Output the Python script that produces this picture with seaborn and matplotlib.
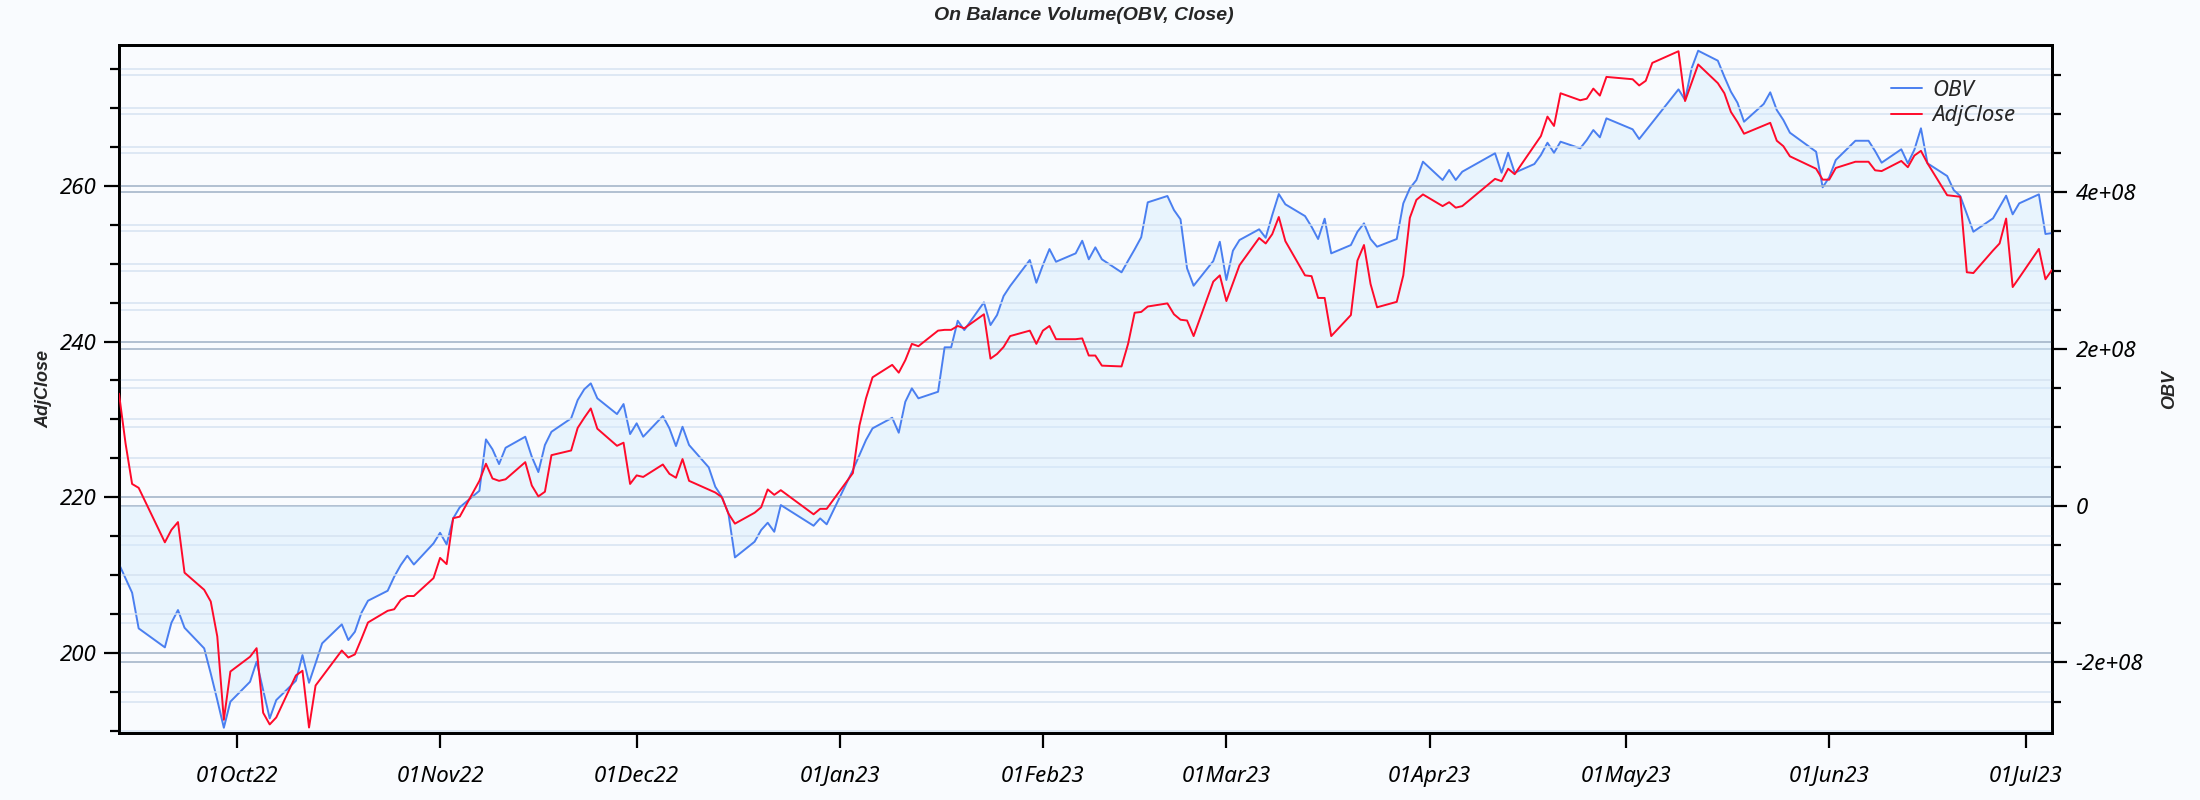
import matplotlib
matplotlib.use("Agg")
import matplotlib.pyplot as plt
import matplotlib.dates as mdates
import matplotlib.ticker as mticker
import seaborn as sns
import pandas as pd

# ---------------- data ----------------
close_dates = [
    "2022-09-13", "2022-09-14", "2022-09-15", "2022-09-16", "2022-09-20", "2022-09-21", "2022-09-22",
    "2022-09-23", "2022-09-26", "2022-09-27", "2022-09-28", "2022-09-29", "2022-09-30", "2022-10-03",
    "2022-10-04", "2022-10-05", "2022-10-06", "2022-10-07", "2022-10-10", "2022-10-11", "2022-10-12",
    "2022-10-13", "2022-10-17", "2022-10-18", "2022-10-19", "2022-10-20", "2022-10-21", "2022-10-24",
    "2022-10-25", "2022-10-26", "2022-10-27", "2022-10-28", "2022-10-31", "2022-11-01", "2022-11-02",
    "2022-11-03", "2022-11-04", "2022-11-07", "2022-11-08", "2022-11-09", "2022-11-10", "2022-11-11",
    "2022-11-14", "2022-11-15", "2022-11-16", "2022-11-17", "2022-11-18", "2022-11-21", "2022-11-22",
    "2022-11-23", "2022-11-24", "2022-11-25", "2022-11-28", "2022-11-29", "2022-11-30", "2022-12-01",
    "2022-12-02", "2022-12-05", "2022-12-06", "2022-12-07", "2022-12-08", "2022-12-09", "2022-12-13",
    "2022-12-14", "2022-12-15", "2022-12-16", "2022-12-19", "2022-12-20", "2022-12-21", "2022-12-22",
    "2022-12-23", "2022-12-28", "2022-12-29", "2022-12-30", "2023-01-03", "2023-01-04", "2023-01-05",
    "2023-01-06", "2023-01-09", "2023-01-10", "2023-01-11", "2023-01-12", "2023-01-13", "2023-01-16",
    "2023-01-17", "2023-01-18", "2023-01-19", "2023-01-20", "2023-01-23", "2023-01-24", "2023-01-25",
    "2023-01-26", "2023-01-27", "2023-01-30", "2023-01-31", "2023-02-01", "2023-02-02", "2023-02-03",
    "2023-02-06", "2023-02-07", "2023-02-08", "2023-02-09", "2023-02-10", "2023-02-13", "2023-02-14",
    "2023-02-15", "2023-02-16", "2023-02-17", "2023-02-20", "2023-02-21", "2023-02-22", "2023-02-23",
    "2023-02-24", "2023-02-27", "2023-02-28", "2023-03-01", "2023-03-03", "2023-03-06", "2023-03-07",
    "2023-03-08", "2023-03-09", "2023-03-10", "2023-03-13", "2023-03-14", "2023-03-15", "2023-03-16",
    "2023-03-17", "2023-03-20", "2023-03-21", "2023-03-22", "2023-03-23", "2023-03-24", "2023-03-27",
    "2023-03-28", "2023-03-29", "2023-03-30", "2023-03-31", "2023-04-03", "2023-04-04", "2023-04-05",
    "2023-04-06", "2023-04-11", "2023-04-12", "2023-04-13", "2023-04-14", "2023-04-18", "2023-04-19",
    "2023-04-20", "2023-04-21", "2023-04-24", "2023-04-25", "2023-04-26", "2023-04-27", "2023-04-28",
    "2023-05-02", "2023-05-03", "2023-05-04", "2023-05-05", "2023-05-09", "2023-05-10", "2023-05-12",
    "2023-05-15", "2023-05-16", "2023-05-17", "2023-05-18", "2023-05-19", "2023-05-23", "2023-05-24",
    "2023-05-25", "2023-05-26", "2023-05-30", "2023-05-31", "2023-06-01", "2023-06-02", "2023-06-05",
    "2023-06-07", "2023-06-08", "2023-06-09", "2023-06-12", "2023-06-13", "2023-06-14", "2023-06-15",
    "2023-06-16", "2023-06-19", "2023-06-21", "2023-06-22", "2023-06-23", "2023-06-26", "2023-06-27",
    "2023-06-28", "2023-06-29", "2023-06-30", "2023-07-03", "2023-07-04", "2023-07-05",
]
close_values = [
    233.3, 226.9, 221.7, 221.2, 214.2, 215.8, 216.8,
    210.3, 208.1, 206.6, 202.1, 191.4, 197.6, 199.5,
    200.6, 192.3, 190.8, 191.7, 197.1, 197.7, 190.4,
    195.8, 200.3, 199.4, 199.8, 201.8, 203.9, 205.4,
    205.6, 206.8, 207.3, 207.3, 209.6, 212.2, 211.4,
    217.3, 217.5, 222.1, 224.3, 222.4, 222.1, 222.3,
    224.5, 221.5, 220.1, 220.7, 225.4, 226.0, 228.9,
    230.2, 231.4, 228.8, 226.6, 227.0, 221.7, 222.8,
    222.6, 224.2, 223.0, 222.5, 224.9, 222.1, 220.6,
    220.0, 217.9, 216.6, 218.0, 218.7, 221.0, 220.3,
    220.9, 217.8, 218.5, 218.5, 223.1, 229.2, 232.7,
    235.4, 237.0, 236.0, 237.6, 239.7, 239.4, 241.4,
    241.5, 241.5, 242.0, 241.7, 243.5, 237.8, 238.4,
    239.3, 240.7, 241.4, 239.7, 241.4, 242.0, 240.3,
    240.3, 240.4, 238.2, 238.2, 236.9, 236.8, 239.7,
    243.7, 243.8, 244.5, 244.9, 243.5, 242.8, 242.7,
    240.7, 247.7, 248.5, 245.2, 249.8, 253.3, 252.6,
    253.8, 256.0, 252.9, 248.5, 248.4, 245.6, 245.6,
    240.7, 243.4, 250.4, 252.4, 247.4, 244.4, 245.1,
    248.5, 255.9, 258.2, 258.9, 257.4, 257.9, 257.2,
    257.4, 260.9, 260.6, 262.2, 261.5, 266.4, 268.9,
    267.7, 271.9, 271.0, 271.2, 272.5, 271.6, 274.0,
    273.7, 272.9, 273.5, 275.8, 277.3, 270.9, 275.6,
    273.2, 271.9, 269.5, 268.2, 266.7, 268.1, 265.8,
    265.1, 263.8, 262.2, 260.8, 260.8, 262.3, 263.1,
    263.1, 262.0, 261.9, 263.2, 262.4, 263.9, 264.5,
    262.9, 258.8, 258.6, 248.9, 248.8, 251.7, 252.6,
    255.8, 247.0, 248.2, 251.9, 248.0, 249.2,
]

obv_dates = [
    "2022-09-13", "2022-09-15", "2022-09-16", "2022-09-20", "2022-09-21", "2022-09-22", "2022-09-23",
    "2022-09-26", "2022-09-27", "2022-09-28", "2022-09-29", "2022-09-30", "2022-10-03", "2022-10-04",
    "2022-10-05", "2022-10-06", "2022-10-07", "2022-10-10", "2022-10-11", "2022-10-12", "2022-10-13",
    "2022-10-14", "2022-10-17", "2022-10-18", "2022-10-19", "2022-10-20", "2022-10-21", "2022-10-24",
    "2022-10-25", "2022-10-26", "2022-10-27", "2022-10-28", "2022-10-31", "2022-11-01", "2022-11-02",
    "2022-11-03", "2022-11-04", "2022-11-07", "2022-11-08", "2022-11-09", "2022-11-10", "2022-11-11",
    "2022-11-14", "2022-11-15", "2022-11-16", "2022-11-17", "2022-11-18", "2022-11-21", "2022-11-22",
    "2022-11-23", "2022-11-24", "2022-11-25", "2022-11-28", "2022-11-29", "2022-11-30", "2022-12-01",
    "2022-12-02", "2022-12-05", "2022-12-06", "2022-12-07", "2022-12-08", "2022-12-09", "2022-12-12",
    "2022-12-13", "2022-12-14", "2022-12-15", "2022-12-16", "2022-12-19", "2022-12-20", "2022-12-21",
    "2022-12-22", "2022-12-23", "2022-12-28", "2022-12-29", "2022-12-30", "2023-01-03", "2023-01-04",
    "2023-01-05", "2023-01-06", "2023-01-09", "2023-01-10", "2023-01-11", "2023-01-12", "2023-01-13",
    "2023-01-16", "2023-01-17", "2023-01-18", "2023-01-19", "2023-01-20", "2023-01-23", "2023-01-24",
    "2023-01-25", "2023-01-26", "2023-01-27", "2023-01-30", "2023-01-31", "2023-02-01", "2023-02-02",
    "2023-02-03", "2023-02-06", "2023-02-07", "2023-02-08", "2023-02-09", "2023-02-10", "2023-02-13",
    "2023-02-14", "2023-02-15", "2023-02-16", "2023-02-17", "2023-02-20", "2023-02-21", "2023-02-22",
    "2023-02-23", "2023-02-24", "2023-02-27", "2023-02-28", "2023-03-01", "2023-03-02", "2023-03-03",
    "2023-03-06", "2023-03-07", "2023-03-08", "2023-03-09", "2023-03-10", "2023-03-13", "2023-03-14",
    "2023-03-15", "2023-03-16", "2023-03-17", "2023-03-20", "2023-03-21", "2023-03-22", "2023-03-23",
    "2023-03-24", "2023-03-27", "2023-03-28", "2023-03-29", "2023-03-30", "2023-03-31", "2023-04-03",
    "2023-04-04", "2023-04-05", "2023-04-06", "2023-04-11", "2023-04-12", "2023-04-13", "2023-04-14",
    "2023-04-17", "2023-04-18", "2023-04-19", "2023-04-20", "2023-04-21", "2023-04-24", "2023-04-25",
    "2023-04-26", "2023-04-27", "2023-04-28", "2023-05-02", "2023-05-03", "2023-05-09", "2023-05-10",
    "2023-05-11", "2023-05-12", "2023-05-15", "2023-05-16", "2023-05-17", "2023-05-18", "2023-05-19",
    "2023-05-22", "2023-05-23", "2023-05-24", "2023-05-25", "2023-05-26", "2023-05-30", "2023-05-31",
    "2023-06-01", "2023-06-02", "2023-06-05", "2023-06-07", "2023-06-08", "2023-06-09", "2023-06-12",
    "2023-06-13", "2023-06-14", "2023-06-15", "2023-06-16", "2023-06-19", "2023-06-20", "2023-06-21",
    "2023-06-23", "2023-06-26", "2023-06-28", "2023-06-29", "2023-06-30", "2023-07-03", "2023-07-04",
    "2023-07-05",
]
obv_millions = [
    -74.4, -111.0, -156.5, -180.7, -149.3, -133.1, -155.7,
    -182.0, -214.0, -248.0, -283.3, -250.0, -224.6, -199.0,
    -235.0, -271.4, -248.0, -223.3, -190.6, -225.9, -201.0,
    -175.6, -151.4, -171.4, -160.8, -136.6, -121.2, -108.5,
    -90.6, -75.7, -63.8, -75.0, -48.0, -34.5, -49.3,
    -16.1, -2.0, 19.1, 84.7, 72.0, 53.2, 74.0,
    88.1, 62.5, 43.0, 77.5, 94.4, 111.5, 134.9,
    148.6, 156.2, 137.1, 117.0, 129.8, 91.5, 105.2,
    88.1, 114.5, 98.8, 76.2, 100.8, 77.5, 49.0,
    24.3, 11.5, -9.7, -65.9, -45.9, -31.0, -21.7,
    -33.2, 0.9, -25.5, -16.1, -23.7, 45.6, 64.7,
    83.9, 98.8, 112.3, 93.2, 132.7, 149.8, 137.1,
    145.5, 202.2, 202.2, 236.1, 224.2, 259.6, 230.6,
    243.4, 267.6, 280.4, 313.6, 284.6, 307.2, 327.6,
    311.4, 322.1, 338.2, 314.5, 329.8, 314.5, 297.9,
    312.7, 327.2, 342.6, 387.2, 395.3, 377.4, 365.5,
    303.0, 280.8, 312.3, 336.9, 288.1, 325.5, 339.1,
    352.8, 342.0, 371.0, 397.8, 384.7, 369.7, 356.1,
    340.4, 366.3, 322.1, 332.7, 349.7, 360.4, 340.4,
    330.6, 340.4, 385.9, 405.1, 415.7, 439.1, 415.7,
    428.5, 415.7, 426.3, 449.8, 425.0, 450.5, 425.0,
    436.1, 447.6, 463.3, 450.5, 464.6, 456.1, 466.7,
    479.5, 470.2, 494.4, 480.4, 468.0, 531.4, 517.8,
    558.2, 580.7, 568.0, 547.5, 528.4, 514.3, 490.1,
    512.7, 527.6, 505.0, 492.3, 476.1, 451.8, 406.4,
    419.1, 441.2, 465.8, 465.8, 452.7, 437.8, 454.9,
    437.0, 454.4, 481.7, 437.0, 420.8, 402.9, 395.3,
    349.7, 366.8, 395.7, 371.9, 385.9, 397.4, 346.8,
    348.0,
]

title_text = "On Balance Volume(OBV, Close)"
left_label = "AdjClose"
right_label = "OBV"

close_df = pd.DataFrame({"Date": pd.to_datetime(close_dates), "AdjClose": close_values})
obv_df = pd.DataFrame({"Date": pd.to_datetime(obv_dates), "OBV": [v * 1e6 for v in obv_millions]})

# ---------------- style ----------------
sns.set_theme(style="ticks")
plt.rcParams["font.family"] = ["Noto Sans", "DejaVu Sans"]
plt.rcParams["font.style"] = "italic"

bg = "#f9fbfe"
blue = "#4a7ff0"
red = "#ff0a2a"
major_grid = "#a3b4c8"
minor_grid = "#d3e1f0"
bold_family = ["Liberation Sans", "DejaVu Sans"]

fig = plt.figure(figsize=(22, 8), dpi=100, facecolor=bg)
ax = fig.add_axes([119 / 2200, 1 - 733 / 800, (2052 - 119) / 2200, (733 - 45) / 800])
ax2 = ax.twinx()

# background on the lower (twin) axes, left axes drawn on top
ax2.set_facecolor(bg)
ax.set_zorder(ax2.get_zorder() + 1)
ax.patch.set_visible(False)

# OBV (right axis) with fill to zero
ax2.fill_between(obv_df["Date"], obv_df["OBV"], 0, interpolate=True,
                 color="#d4ecfd", alpha=0.45, lw=0, zorder=1)
sns.lineplot(data=obv_df, x="Date", y="OBV", ax=ax2, color=blue, lw=1.4, zorder=3, legend=False)
# AdjClose (left axis)
sns.lineplot(data=close_df, x="Date", y="AdjClose", ax=ax, color=red, lw=1.4, zorder=3, legend=False)

# limits
ax.set_xlim(pd.Timestamp("2022-09-13"), pd.Timestamp("2023-07-05"))
ax.set_ylim(189.7, 278.1)
ax2.set_ylim(-2.90e8, 5.88e8)

# ticks
ax.xaxis.set_major_locator(mdates.MonthLocator())
ax.xaxis.set_major_formatter(mdates.DateFormatter("%d%b%y"))
ax.yaxis.set_major_locator(mticker.MultipleLocator(20))
ax.yaxis.set_minor_locator(mticker.MultipleLocator(5))
ax2.yaxis.set_major_locator(mticker.MultipleLocator(2e8))
ax2.yaxis.set_minor_locator(mticker.MultipleLocator(0.5e8))
ax2.yaxis.set_major_formatter(mticker.FuncFormatter(lambda v, p: f"{v:g}"))

ax.tick_params(axis="y", which="major", direction="out", length=11, width=1.6,
               labelsize=16, pad=5, color="black", labelcolor="black")
ax.tick_params(axis="y", which="minor", direction="out", length=6.5, width=1.6, color="black")
ax2.tick_params(axis="y", which="major", direction="out", length=11, width=1.6,
                labelsize=16, pad=6, color="black", labelcolor="black")
ax2.tick_params(axis="y", which="minor", direction="out", length=6.5, width=1.6, color="black")
ax.tick_params(axis="x", which="major", direction="out", length=11, width=1.6,
               labelsize=16, pad=13, color="black", labelcolor="black")
ax2.tick_params(axis="x", which="both", length=0)

# grids
ax.grid(False)
ax2.grid(False)
ax2.xaxis.grid(True, which="major", color=major_grid, lw=1.3, alpha=0.9)
ax.yaxis.grid(True, which="major", color=major_grid, lw=1.3, alpha=0.9)
ax.yaxis.grid(True, which="minor", color=minor_grid, lw=1.2, alpha=0.85)
ax2.yaxis.grid(True, which="major", color=major_grid, lw=1.3, alpha=0.9)
ax2.yaxis.grid(True, which="minor", color=minor_grid, lw=1.2, alpha=0.85)
ax.set_axisbelow(True)
ax2.set_axisbelow(True)

for a in (ax, ax2):
    for s in a.spines.values():
        s.set_visible(True)
        s.set_color("black")
        s.set_linewidth(2.0)

ax.set_xlabel("")
ax.set_ylabel("")
ax2.set_ylabel("")

# labels and title
fig.text(1084 / 2200, 1 - 16 / 800, title_text, ha="center", va="center",
         fontsize=14, fontweight="bold", style="italic", family=bold_family)
fig.text(44 / 2200, 1 - 389 / 800, left_label, rotation=90, ha="center", va="center",
         fontsize=13, fontweight="bold", style="italic", family=bold_family)
fig.text(2170 / 2200, 1 - 389 / 800, right_label, rotation=90, ha="center", va="center",
         fontsize=13, fontweight="bold", style="italic", family=bold_family)

# legend
h_obv = ax2.get_lines()[0]
h_close = ax.get_lines()[0]
ax.legend([h_obv, h_close], ["OBV", "AdjClose"], loc="upper right",
          bbox_to_anchor=(0.9855, 0.962), frameon=False, fontsize=16,
          handlelength=1.4, handletextpad=0.45, labelspacing=0.2, borderpad=0.4,
          borderaxespad=0)

fig.savefig("out.png", dpi=100, facecolor=bg)
